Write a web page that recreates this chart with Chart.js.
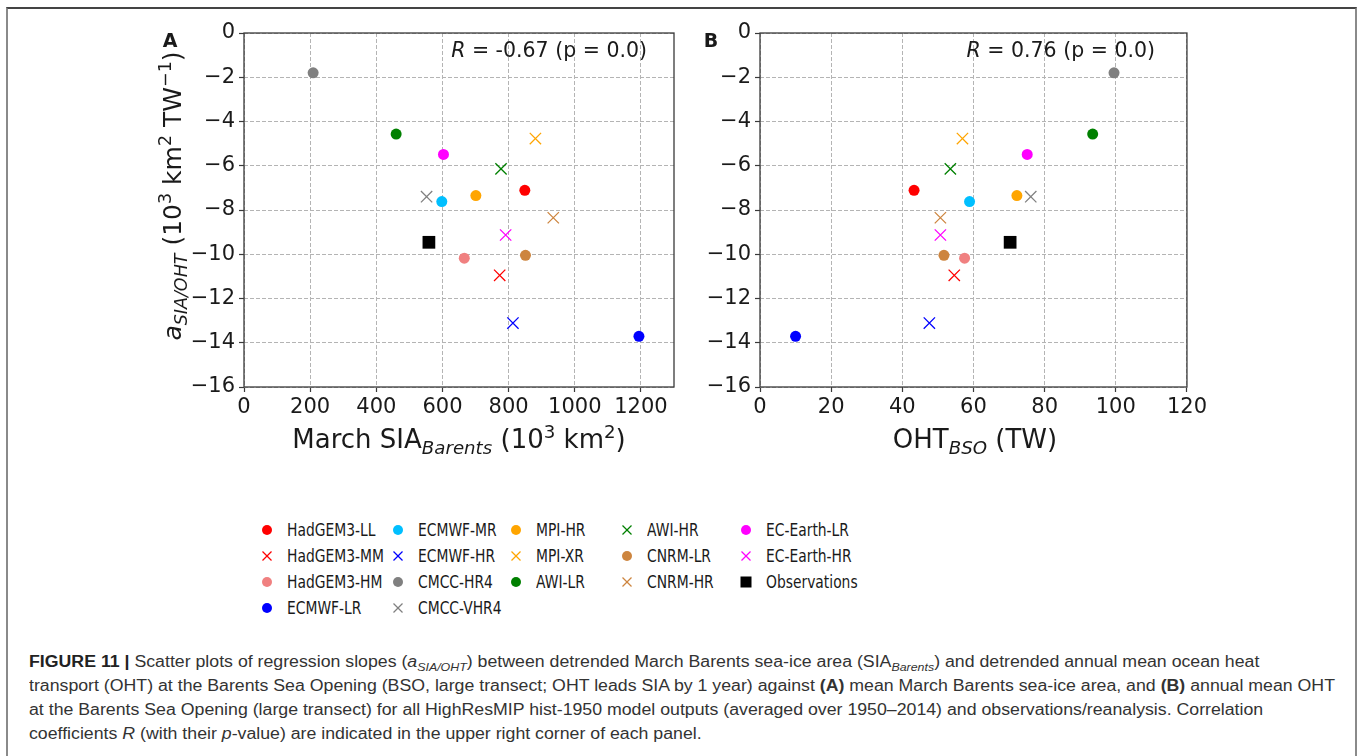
<!DOCTYPE html>
<html>
<head>
<meta charset="utf-8">
<script src="https://cdn.jsdelivr.net/npm/chart.js@4.4.0/dist/chart.umd.min.js"></script>
<style>
  html, body { margin: 0; padding: 0; background: #fff; }
  body { width: 1357px; height: 756px; position: relative; overflow: hidden; font-family: 'DejaVu Sans', sans-serif; color: #1a1a1a; }
  .frame { position: absolute; left: 6px; top: 7px; width: 1347px; height: 800px; border-top: 2px solid #444; border-left: 2px solid #8a8a8a; border-right: 2px solid #8a8a8a; }
  canvas { position: absolute; }
  .abs { position: absolute; white-space: nowrap; line-height: 1; }
  .mid { transform: translate(-50%, -50%); }
  .axt { font-size: 26px; }
  .axt sub, .axt sup { font-size: 70%; line-height: 0; }
  .axt sub { font-style: italic; }
  .rot { transform: translate(-50%, -50%) rotate(-90deg); font-size: 25px; }
  .ann { font-size: 20.5px; }
  .letter { font-size: 19px; font-weight: bold; }
  .leg { font-size: 18px; transform-origin: 0 50%; transform: scaleX(0.77); }
  .cap { font-family: 'Liberation Sans', Arial, sans-serif; font-size: 16px; color: #333; transform-origin: 0 50%; line-height: 1; }
  .cap sub { font-size: 70%; line-height: 0; }
</style>
</head>
<body>
<div class="frame"></div>
<canvas id="chartA" width="570" height="440" style="left:120px; top:0px;"></canvas>
<canvas id="chartB" width="570" height="440" style="left:640px; top:0px;"></canvas>

<div class="abs letter mid" style="left:170px; top:40px;">A</div>
<div class="abs letter mid" style="left:711px; top:40px;">B</div>
<div class="abs ann" style="right:710px; top:40px;"><i>R</i> = -0.67 (p = 0.0)</div>
<div class="abs ann" style="right:202px; top:40px;"><i>R</i> = 0.76 (p = 0.0)</div>

<div class="abs axt mid" style="left:459px; top:439px;">March SIA<sub>Barents</sub> (10<sup>3</sup> km<sup>2</sup>)</div>
<div class="abs axt mid" style="left:975px; top:439px;">OHT<sub>BSO</sub> (TW)</div>
<div class="abs axt rot" style="left:172px; top:196px;"><i>a</i><sub>SIA/OHT</sub> (10<sup>3</sup> km<sup>2</sup> TW<sup>−1</sup>)</div>

<div id="legend"></div>

<div class="abs cap" style="left:29px; top:654px;"><b style="color:#222">FIGURE 11 |</b> Scatter plots of regression slopes (<i>a<sub>SIA/OHT</sub></i>) between detrended March Barents sea-ice area (SIA<sub><i>Barents</i></sub>) and detrended annual mean ocean heat</div>
<div class="abs cap" style="left:29px; top:678px;">transport (OHT) at the Barents Sea Opening (BSO, large transect; OHT leads SIA by 1 year) against <b>(A)</b> mean March Barents sea-ice area, and <b>(B)</b> annual mean OHT</div>
<div class="abs cap" style="left:29px; top:702px;">at the Barents Sea Opening (large transect) for all HighResMIP hist-1950 model outputs (averaged over 1950–2014) and observations/reanalysis. Correlation</div>
<div class="abs cap" style="left:29px; top:726px;">coefficients <i>R</i> (with their <i>p</i>-value) are indicated in the upper right corner of each panel.</div>

<script>
// == 데이터 == //
const models = ['HadGEM3-LL', 'HadGEM3-MM', 'HadGEM3-HM', 'ECMWF-LR', 'ECMWF-MR', 'ECMWF-HR', 'CMCC-HR4', 'CMCC-VHR4',
  'MPI-HR', 'MPI-XR', 'AWI-LR', 'AWI-HR', 'CNRM-LR', 'CNRM-HR', 'EC-Earth-LR', 'EC-Earth-HR', 'Observations'];
const markers = ['circle', 'crossRot', 'circle', 'circle', 'circle', 'crossRot', 'circle', 'crossRot',
  'circle', 'crossRot', 'circle', 'crossRot', 'circle', 'crossRot', 'circle', 'crossRot', 'rect'];
const colors = ['#ff0000', '#ff0000', '#f08080', '#0000ff', '#00bfff', '#0000ff', '#808080', '#808080',
  '#ffa500', '#ffa500', '#008000', '#008000', '#cd853f', '#cd853f', '#ff00ff', '#ff00ff', '#000000'];

// March SIA Barents (10^3 km2)
const siaBarents = [849, 773, 666, 1194, 598, 813, 209, 552, 701, 881, 460, 777, 851, 935, 603, 791, 559];
// OHT BSO (TW)
const ohtBso = [43.3, 54.6, 57.5, 10.0, 58.9, 47.6, 99.5, 76.1, 72.2, 56.9, 93.5, 53.5, 51.7, 50.7, 75.1, 50.7, 70.3];
// a SIA/OHT (10^3 km2 TW-1)
const slopes = [-7.11, -10.95, -10.18, -13.71, -7.62, -13.11, -1.80, -7.40, -7.35, -4.77, -4.57, -6.14, -10.05, -8.35, -5.49, -9.13, -9.46];

const yTicks = { min: -16, max: 0, step: 2 };
const xTicksA = { min: 0, max: 1300, step: 200 };
const xTicksB = { min: 0, max: 120, step: 20 };

Chart.defaults.font.family = "'DejaVu Sans', sans-serif";
Chart.defaults.font.size = 21;
Chart.defaults.color = '#1a1a1a';

// == 테두리 (상/우 포함) == //
const boxPlugin = {
  id: 'box',
  afterDraw(chart) {
    const a = chart.chartArea;
    const ctx = chart.ctx;
    ctx.save();
    ctx.strokeStyle = '#3a3a3a';
    ctx.lineWidth = 1.3;
    ctx.strokeRect(a.left, a.top, a.right - a.left, a.bottom - a.top);
    ctx.restore();
  }
};

function makeDatasets(xs) {
  return models.map((name, i) => {
    const isCross = markers[i] === 'crossRot';
    return {
      label: name,
      data: [{ x: xs[i], y: slopes[i] }],
      pointStyle: markers[i],
      pointRadius: isCross ? 8 : (markers[i] === 'rect' ? 9 : 5.5),
      pointBorderWidth: isCross ? 1.3 : 0,
      pointBackgroundColor: colors[i],
      pointBorderColor: colors[i],
      showLine: false
    };
  });
}

function makeChart(id, xs, xt, yWidth, padRight) {
  return new Chart(document.getElementById(id), {
    type: 'scatter',
    data: { datasets: makeDatasets(xs) },
    options: {
      responsive: false,
      animation: false,
      events: [],
      layout: { padding: { left: 0, right: padRight, top: 33, bottom: 13 } },
      plugins: { legend: { display: false }, tooltip: { enabled: false } },
      scales: {
        x: {
          type: 'linear',
          min: xt.min,
          max: xt.max,
          afterFit: (s) => { s.height = 40; },
          ticks: { stepSize: xt.step, includeBounds: false, padding: 3, maxRotation: 0, callback: (v) => String(v) },
          grid: { color: '#b4b4b4', lineWidth: 1, tickColor: '#3a3a3a', tickLength: 5, tickWidth: 1.2 },
          border: { display: false, dash: [4, 2] }
        },
        y: {
          type: 'linear',
          min: yTicks.min,
          max: yTicks.max,
          afterFit: (s) => { s.width = yWidth; },
          ticks: {
            stepSize: yTicks.step,
            padding: 4,
            callback: (v) => String(v).replace('-', '\u2212')
          },
          grid: { color: '#b4b4b4', lineWidth: 1, tickColor: '#3a3a3a', tickLength: 5, tickWidth: 1.2 },
          border: { display: false, dash: [4, 2] }
        }
      }
    },
    plugins: [boxPlugin]
  });
}

makeChart('chartA', siaBarents, xTicksA, 124, 16);
makeChart('chartB', ohtBso, xTicksB, 120, 19);

// == 범례 (열 우선 배치) == //
const legendCols = [[0, 1, 2, 3], [4, 5, 6, 7], [8, 9, 10], [11, 12, 13], [14, 15, 16]];
const legendMarkerX = [267, 398, 516, 627, 746];
const legendTextGap = 20;
const legendRowY = 530;
const legendRowStep = 26;

function markerSvg(style, color) {
  let shape = '';
  if (style === 'circle') shape = `<circle cx="7" cy="7" r="5" fill="${color}"/>`;
  else if (style === 'crossRot') shape = `<line x1="2.5" y1="2.5" x2="11.5" y2="11.5" stroke="${color}" stroke-width="1.2"/><line x1="11.5" y1="2.5" x2="2.5" y2="11.5" stroke="${color}" stroke-width="1.2"/>`;
  else shape = `<rect x="1.5" y="1.5" width="11" height="11" fill="${color}"/>`;
  return `<svg width="14" height="14" viewBox="0 0 14 14">${shape}</svg>`;
}

let legendHtml = '';
legendCols.forEach((col, c) => {
  col.forEach((idx, r) => {
    const y = legendRowY + r * legendRowStep;
    legendHtml += `<div class="abs" style="left:${legendMarkerX[c] - 7}px; top:${y - 7}px;">${markerSvg(markers[idx], colors[idx])}</div>`;
    legendHtml += `<div class="abs leg" style="left:${legendMarkerX[c] + legendTextGap}px; top:${y - 9}px;">${models[idx]}</div>`;
  });
});
document.getElementById('legend').innerHTML = legendHtml;

// == 캡션 폭 맞춤 == //
const caps = document.querySelectorAll('.cap');
const targetW = 1335 - 29;
const scale = targetW / caps[1].getBoundingClientRect().width;
caps.forEach((el) => { el.style.transform = `scaleX(${scale})`; });
</script>
</body>
</html>
